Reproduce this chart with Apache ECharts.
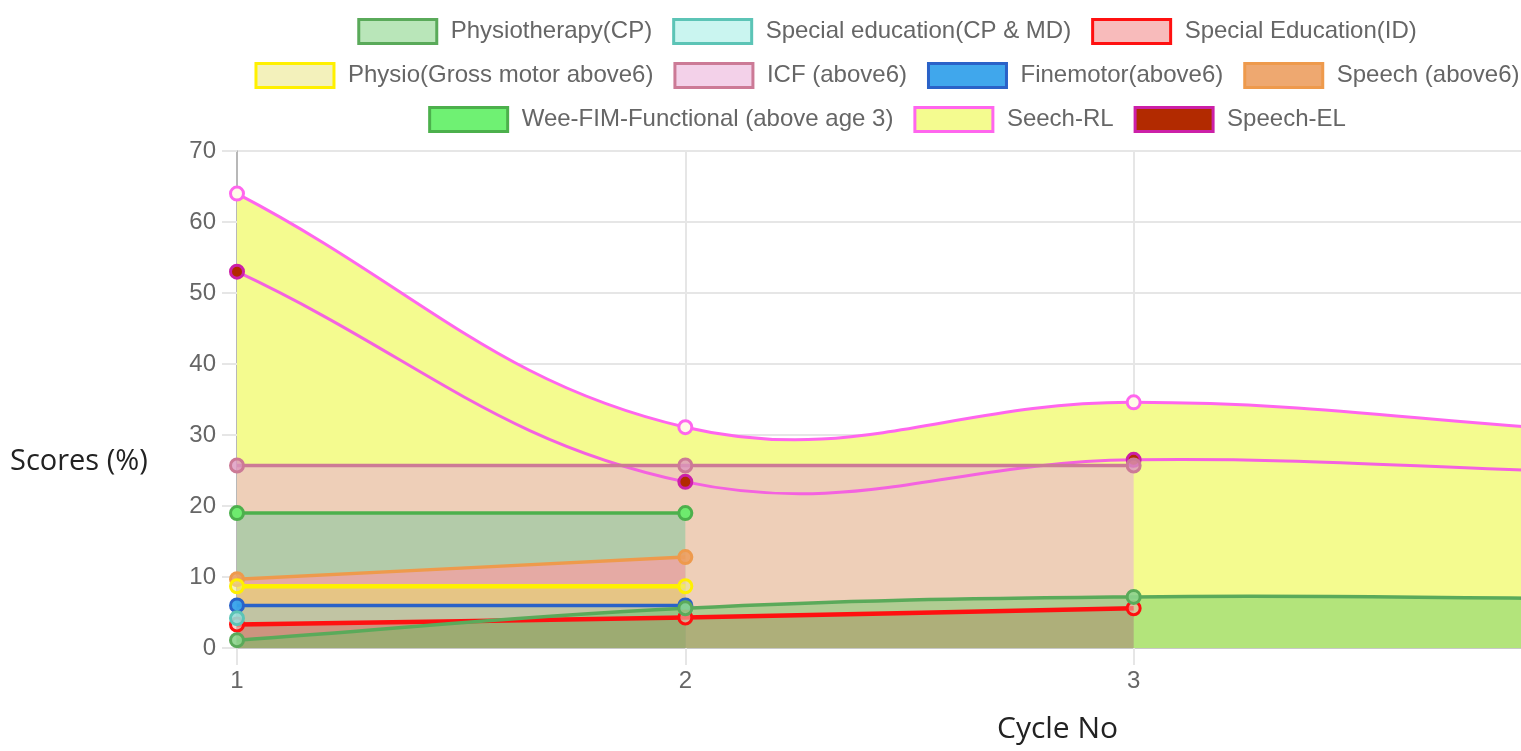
<!DOCTYPE html>
<html>
<head>
<meta charset="utf-8">
<title>Scores by cycle</title>
<script src="https://cdn.jsdelivr.net/npm/echarts@6/dist/echarts.min.js"></script>
<style>
	html, body { margin: 0; padding: 0; overflow: hidden; background: #fff; }
	/* the original canvas is wider than the window, cycle 4 sits off the right edge */
	#main { width: 1774px; height: 751px; }
</style>
</head>
<body>
<div id="main"></div>
<script>
const cycles = ["1", "2", "3", "4"];
const yTicks = { min: 0, max: 70, interval: 10 };

const physioCP = [1.1, 5.6, 7.2, 7.0];
const specialEduCPMD = [4.2];
const specialEduID = [3.3, 4.3, 5.6];
const physioGross = [8.7, 8.7];
const icfAbove6 = [25.7, 25.7, 25.7];
const finemotor = [6.0, 6.0];
const speechAbove6 = [9.7, 12.8];
const weeFim = [19.0, 19.0];
const seechRL = [64.0, 31.1, 34.6, 30.6];
const speechEL = [53.0, 23.4, 26.5, 24.8];

// same order as the legend; first one is drawn on top (like chart.js)
const datasets = [
	{ name: "Physiotherapy(CP)", data: physioCP, line: "#5aaa5a", fill: "rgba(100,200,100,0.45)", point: "rgba(140,212,140,0.9)", box: "rgba(100,200,100,0.45)", width: 3.5 },
	{ name: "Special education(CP & MD)", data: specialEduCPMD, line: "#5cc4b6", fill: "rgba(150,235,225,0.5)", point: "rgba(150,220,215,0.9)", box: "rgba(150,235,225,0.5)", width: 3.5 },
	{ name: "Special Education(ID)", data: specialEduID, line: "#ff1010", fill: "rgba(230,60,60,0.35)", point: "rgba(240,180,170,0.6)", box: "rgba(235,60,60,0.35)", width: 4.5 },
	{ name: "Physio(Gross motor above6)", data: physioGross, line: "#fff000", fill: "rgba(232,228,100,0.48)", point: "rgba(235,230,150,0.6)", box: "rgba(232,228,120,0.5)", width: 4.5 },
	{ name: "ICF (above6)", data: icfAbove6, line: "#cc7a96", fill: "rgba(234,173,216,0.56)", point: "rgba(220,150,190,0.8)", box: "rgba(234,173,216,0.56)", width: 3.5 },
	{ name: "Finemotor(above6)", data: finemotor, line: "#2a62c8", fill: "rgba(54,162,235,0.95)", point: "rgba(54,162,235,0.95)", box: "rgba(54,162,235,0.95)", width: 3.5 },
	{ name: "Speech (above6)", data: speechAbove6, line: "#ee9a4c", fill: "rgba(236,159,96,0.9)", point: "rgba(236,159,96,0.9)", box: "rgba(236,159,96,0.9)", width: 3.5 },
	{ name: "Wee-FIM-Functional (above age 3)", data: weeFim, line: "#4cb04c", fill: "rgba(103,240,107,0.95)", point: "rgba(110,235,110,1)", box: "rgba(103,240,107,0.95)", width: 3.5 },
	{ name: "Seech-RL", data: seechRL, line: "#ff66ee", fill: "#f4fb8f", point: "#fffbe8", box: "#f4fb8f", width: 3 },
	{ name: "Speech-EL", data: speechEL, line: "#f462e0", fill: null, point: "#b22a00", box: "#b22a00", border: "#cc20a8", width: 3 },
];

const legendRows = [
	["Physiotherapy(CP)", "Special education(CP & MD)", "Special Education(ID)"],
	["Physio(Gross motor above6)", "ICF (above6)", "Finemotor(above6)", "Speech (above6)"],
	["Wee-FIM-Functional (above age 3)", "Seech-RL", "Speech-EL"],
];

const FONT = "'Liberation Sans', Arial, sans-serif";
const TENSION = 0.4;

function byName(name) {
	return datasets.find((d) => d.name === name);
}

// chart.js style spline (no clamping, so it can overshoot like the original)
function splinePath(pts) {
	const n = pts.length;
	const cps = pts.map((cur, i) => {
		const prev = i > 0 ? pts[i - 1] : cur;
		const next = i < n - 1 ? pts[i + 1] : cur;
		const d01 = Math.hypot(cur[0] - prev[0], cur[1] - prev[1]);
		const d12 = Math.hypot(next[0] - cur[0], next[1] - cur[1]);
		const sum = d01 + d12;
		const fa = sum ? (TENSION * d01) / sum : 0;
		const fb = sum ? (TENSION * d12) / sum : 0;
		return {
			before: [cur[0] - fa * (next[0] - prev[0]), cur[1] - fa * (next[1] - prev[1])],
			after: [cur[0] + fb * (next[0] - prev[0]), cur[1] + fb * (next[1] - prev[1])],
		};
	});
	let d = "M" + pts[0][0] + " " + pts[0][1];
	for (let i = 1; i < n; i++) {
		d += " C" + cps[i - 1].after.join(" ") + " " + cps[i].before.join(" ") + " " + pts[i].join(" ");
	}
	return d;
}

function curveSeries(d, kind) {
	return {
		type: "custom",
		data: d.data.map((v, i) => [i, v]),
		encode: { x: 0, y: 1 },
		silent: true,
		z: kind === "area" ? 1 : 2,
		renderItem: function (params, api) {
			if (params.dataIndex !== 0 || d.data.length < 2) return null;
			const pts = d.data.map((v, i) => api.coord([i, v]));
			let path = splinePath(pts);
			if (kind === "area") {
				const base0 = api.coord([0, 0]);
				const baseN = api.coord([d.data.length - 1, 0]);
				path += " L" + baseN[0] + " " + baseN[1] + " L" + base0[0] + " " + base0[1] + " Z";
				return { type: "path", shape: { pathData: path }, style: { fill: d.fill, stroke: null } };
			}
			return { type: "path", shape: { pathData: path }, style: { fill: null, stroke: d.line, lineWidth: d.width } };
		},
	};
}

function buildSeries() {
	const areas = [];
	const lines = [];
	const points = [];
	// reverse so the first dataset ends up on top
	datasets.slice().reverse().forEach((d) => {
		if (d.fill) areas.push(curveSeries(d, "area"));
		lines.push(curveSeries(d, "line"));
		points.push({
			name: d.name,
			type: "line",
			data: d.data,
			symbol: "circle",
			symbolSize: 13,
			showAllSymbol: true,
			z: 3,
			lineStyle: { opacity: 0 },
			itemStyle: { color: d.point, borderColor: d.border || d.line, borderWidth: 3 },
		});
	});
	return areas.concat(lines, points);
}

function buildLegends() {
	return legendRows.map((row, i) => ({
		left: "center",
		top: 18 + i * 44,
		padding: 0,
		icon: "rect",
		itemWidth: 78,
		itemHeight: 24,
		itemGap: 20,
		selectedMode: false,
		textStyle: { color: "#666", fontSize: 24, fontFamily: FONT, padding: [0, 0, 0, 9] },
		data: row.map((name) => {
			const d = byName(name);
			return { name: name, itemStyle: { color: d.box, borderColor: d.border || d.line, borderWidth: 3 } };
		}),
	}));
}

const chart = echarts.init(document.getElementById("main"), null, { renderer: "canvas" });

const option = {
	animation: false,
	backgroundColor: "#fff",
	legend: buildLegends(),
	grid: { left: 237, right: 192, top: 151, bottom: 103, outerBoundsMode: "none" },
	xAxis: {
		type: "category",
		data: cycles,
		boundaryGap: false,
		axisLine: { show: true, lineStyle: { color: "#c8c8c8", width: 2 } },
		axisTick: { show: true, length: 17, lineStyle: { color: "#e6e6e6", width: 2 } },
		axisLabel: { color: "#666", fontSize: 24, fontFamily: FONT, margin: 21 },
		splitLine: { show: true, lineStyle: { color: "#e6e6e6", width: 2 } },
	},
	yAxis: {
		type: "value",
		min: yTicks.min,
		max: yTicks.max,
		interval: yTicks.interval,
		axisLine: { show: true, lineStyle: { color: "#a8a8a8", width: 1.5 } },
		axisTick: { show: true, length: 15, lineStyle: { color: "#e6e6e6", width: 2 } },
		axisLabel: { color: "#666", fontSize: 24, fontFamily: FONT, margin: 21 },
		splitLine: { show: true, lineStyle: { color: "#e6e6e6", width: 2 } },
	},
	graphic: [
		{ type: "text", left: 10, top: 447, style: { text: "Scores (%)", font: "29px 'Open Sans', sans-serif", fill: "#222" } },
		{ type: "text", left: 997, top: 714, style: { text: "Cycle No", font: "30px 'Open Sans', sans-serif", fill: "#222" } },
	],
	series: buildSeries(),
};

chart.setOption(option, true);
</script>
</body>
</html>
